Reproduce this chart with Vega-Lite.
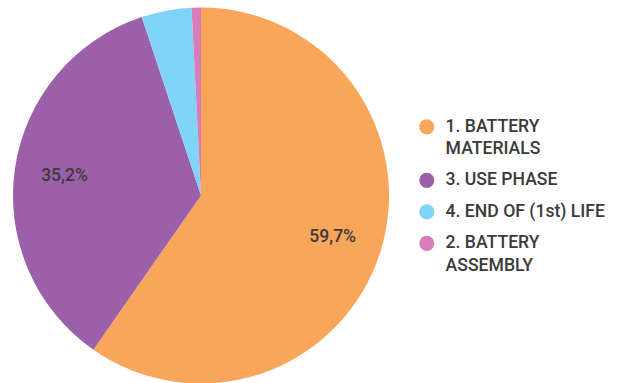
{
  "$schema": "https://vega.github.io/schema/vega-lite/v6.json",
  "width": 402,
  "height": 383,
  "autosize": "none",
  "padding": {"left": 0, "top": 4, "right": 216, "bottom": 0},
  "background": "white",
  "config": {"view": {"stroke": null}, "font": "Roboto"},
  "data": {
    "values": [
      {"category": "1. BATTERY MATERIALS", "value": 59.7, "order": 1, "label": "59,7%"},
      {"category": "3. USE PHASE", "value": 35.2, "order": 2, "label": "35,2%"},
      {"category": "4. END OF (1st) LIFE", "value": 4.3, "order": 3, "label": ""},
      {"category": "2. BATTERY ASSEMBLY", "value": 0.8, "order": 4, "label": ""}
    ]
  },
  "encoding": {
    "theta": {"field": "value", "type": "quantitative", "stack": true},
    "order": {"field": "order", "type": "quantitative"}
  },
  "layer": [
    {
      "mark": {"type": "arc", "outerRadius": 188},
      "encoding": {
        "color": {
          "field": "category",
          "type": "nominal",
          "sort": ["1. BATTERY MATERIALS", "3. USE PHASE", "4. END OF (1st) LIFE", "2. BATTERY ASSEMBLY"],
          "scale": {
            "domain": ["1. BATTERY MATERIALS", "3. USE PHASE", "4. END OF (1st) LIFE", "2. BATTERY ASSEMBLY"],
            "range": ["#F9A55A", "#9B60A9", "#80D4F8", "#D77EB9"]
          },
          "legend": {
            "title": null,
            "orient": "none",
            "legendX": 418,
            "legendY": 114,
            "symbolType": "circle",
            "symbolSize": 230,
            "symbolStrokeWidth": 0,
            "labelFont": "Roboto",
            "labelFontSize": 17.6,
            "labelFontWeight": 500,
            "labelColor": "#3a3a3a",
            "labelOffset": 10,
            "labelLimit": 300,
            "rowPadding": 12.5,
            "labelExpr": "datum.label == '1. BATTERY MATERIALS' ? ['1. BATTERY', 'MATERIALS'] : datum.label == '2. BATTERY ASSEMBLY' ? ['2. BATTERY', 'ASSEMBLY'] : datum.label",
            "encode": {"labels": {"update": {"lineHeight": {"value": 22.5}}}}
          }
        }
      }
    },
    {
      "mark": {"type": "text", "radius": 138, "font": "Roboto", "fontSize": 17.5, "fontWeight": 500, "color": "#3a3a3a"},
      "encoding": {"text": {"field": "label", "type": "nominal"}}
    }
  ]
}
